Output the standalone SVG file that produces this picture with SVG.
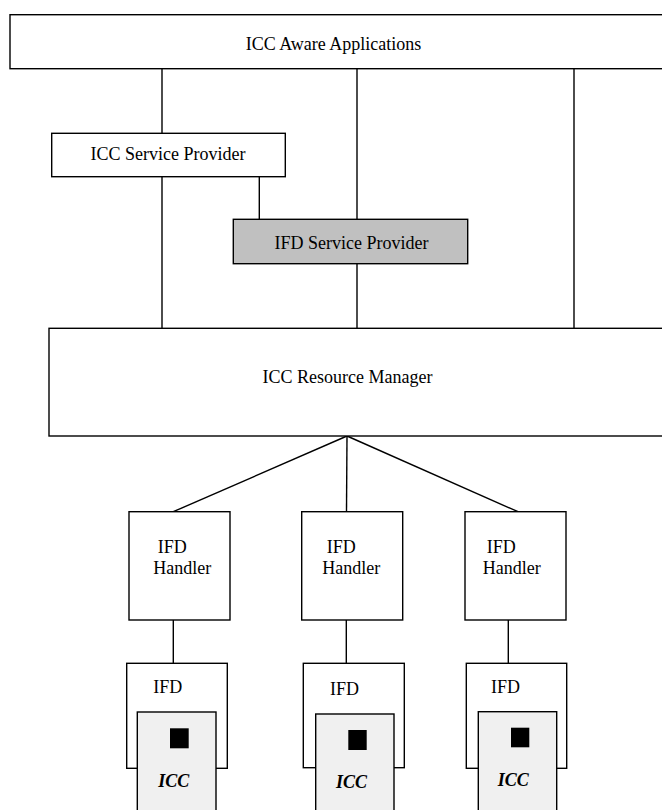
<svg xmlns="http://www.w3.org/2000/svg" width="662" height="810" viewBox="0 0 662 810">
<style>
.box{fill:#fff;stroke:#000;stroke-width:1.4}
.gray{fill:#c0c0c0;stroke:#000;stroke-width:1.4}
.card{fill:#f0f0f0;stroke:#000;stroke-width:1.4}
.chip{fill:#000}
.conn line{stroke:#000;stroke-width:1.4}
text{font-family:"Liberation Serif","Times New Roman",serif;font-size:18px;fill:#000}
.mid{text-anchor:middle}
.icc{font-weight:bold;font-style:italic}
</style>
<rect width="662" height="810" fill="#fff"/>
<g class="conn" id="connectors">
<line x1="162" y1="68.7" x2="162" y2="133.3"/>
<line x1="162" y1="176.7" x2="162" y2="328.3"/>
<line x1="357" y1="68.7" x2="357" y2="219.3"/>
<line x1="357" y1="263.7" x2="357" y2="328.3"/>
<line x1="574" y1="68.7" x2="574" y2="328.3"/>
<line x1="259.3" y1="176.7" x2="259.3" y2="219.3"/>
<line x1="347" y1="436" x2="173.3" y2="511.7"/>
<line x1="347" y1="436" x2="346.5" y2="511.7"/>
<line x1="347" y1="436" x2="518" y2="511.7"/>
<line x1="173.3" y1="620" x2="173.3" y2="663.3"/>
<line x1="346.3" y1="620" x2="346.3" y2="663.3"/>
<line x1="508.3" y1="620" x2="508.3" y2="663.3"/>
</g>
<g id="icc-aware-applications">
<rect class="box" x="10" y="14.7" width="670" height="54"/>
<text class="mid" x="333.5" y="50">ICC Aware Applications</text>
</g>
<g id="icc-service-provider">
<rect class="box" x="51.7" y="133.3" width="233.6" height="43.4"/>
<text class="mid" x="168" y="160">ICC Service Provider</text>
</g>
<g id="ifd-service-provider">
<rect class="gray" x="233.3" y="219.3" width="234.4" height="44.4"/>
<text class="mid" x="351.5" y="248.5">IFD Service Provider</text>
</g>
<g id="icc-resource-manager">
<rect class="box" x="49" y="328.3" width="630" height="107.7"/>
<text class="mid" x="347.5" y="383">ICC Resource Manager</text>
</g>
<g id="ifd-handler-1">
<rect class="box" x="129" y="511.7" width="101" height="108.3"/>
<text x="157.7" y="553.3">IFD</text>
<text x="153.3" y="574">Handler</text>
</g>
<g id="ifd-handler-2">
<rect class="box" x="301.7" y="511.7" width="101" height="108.3"/>
<text x="326.7" y="553.3">IFD</text>
<text x="322.3" y="574">Handler</text>
</g>
<g id="ifd-handler-3">
<rect class="box" x="465" y="511.7" width="101" height="108.3"/>
<text x="486.7" y="553.3">IFD</text>
<text x="482.7" y="574">Handler</text>
</g>
<g id="ifd-1">
<rect class="box" x="126.7" y="663.3" width="100.6" height="105"/>
<text x="153.3" y="693.3">IFD</text>
</g>
<g id="icc-1">
<rect class="card" x="137.3" y="712" width="78.7" height="110"/>
<rect class="chip" x="170" y="728.3" width="18.7" height="20"/>
<text class="icc" x="158.3" y="786.7">ICC</text>
</g>
<g id="ifd-2">
<rect class="box" x="303.3" y="663.3" width="101" height="104.4"/>
<text x="330" y="695">IFD</text>
</g>
<g id="icc-2">
<rect class="card" x="315.7" y="714" width="78.3" height="110"/>
<rect class="chip" x="348.3" y="730" width="18.4" height="20"/>
<text class="icc" x="336" y="788.3">ICC</text>
</g>
<g id="ifd-3">
<rect class="box" x="466.3" y="663.3" width="100.4" height="105"/>
<text x="491" y="692.7">IFD</text>
</g>
<g id="icc-3">
<rect class="card" x="478.3" y="711.7" width="78.4" height="110"/>
<rect class="chip" x="511" y="727.7" width="18.3" height="19.6"/>
<text class="icc" x="497.7" y="786">ICC</text>
</g>
</svg>
